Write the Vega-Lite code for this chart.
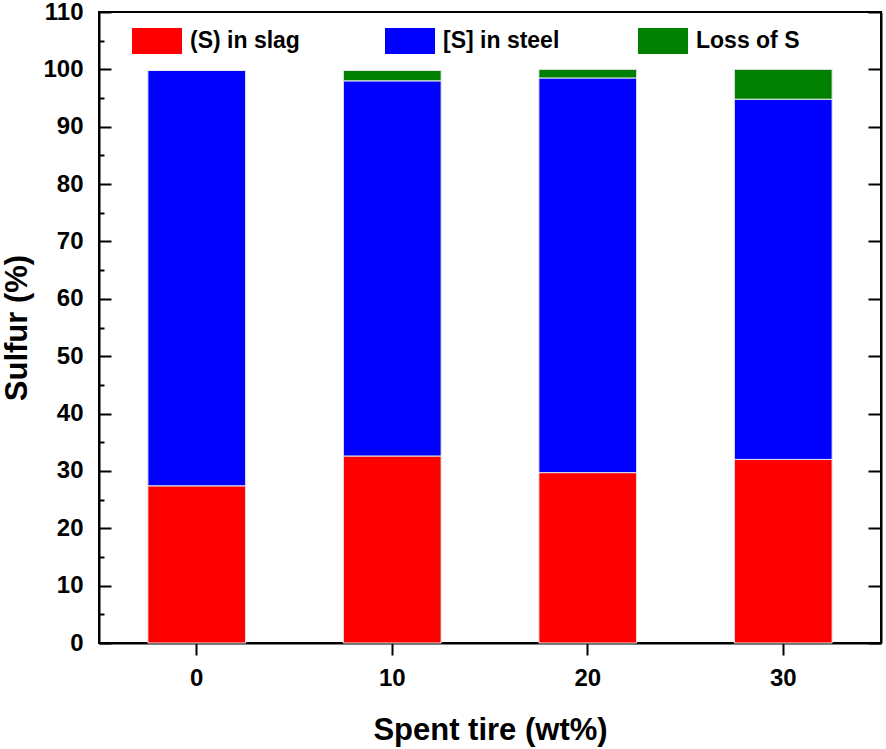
{
  "$schema": "https://vega.github.io/schema/vega-lite/v6.json",
  "width": 782,
  "height": 631,
  "autosize": "none",
  "padding": {"left": 99, "top": 12, "right": 5, "bottom": 106},
  "background": "white",
  "config": {
    "font": "Liberation Sans",
    "view": {"stroke": "black", "strokeWidth": 2},
    "axis": {
      "domainColor": "black",
      "domainWidth": 2,
      "tickColor": "black",
      "tickWidth": 2,
      "grid": false,
      "labelFont": "Liberation Sans",
      "labelFontWeight": "bold",
      "labelFontSize": 24,
      "labelColor": "black",
      "titleFont": "Liberation Sans",
      "titleFontWeight": "bold",
      "titleFontSize": 31,
      "titleColor": "black"
    }
  },
  "data": {
    "values": [
      {"tire": "0", "part": "(S) in slag", "order": 1, "value": 27.4},
      {"tire": "0", "part": "[S] in steel", "order": 2, "value": 72.4},
      {"tire": "0", "part": "Loss of S", "order": 3, "value": 0},
      {"tire": "10", "part": "(S) in slag", "order": 1, "value": 32.6},
      {"tire": "10", "part": "[S] in steel", "order": 2, "value": 65.4},
      {"tire": "10", "part": "Loss of S", "order": 3, "value": 1.8},
      {"tire": "20", "part": "(S) in slag", "order": 1, "value": 29.7},
      {"tire": "20", "part": "[S] in steel", "order": 2, "value": 68.8},
      {"tire": "20", "part": "Loss of S", "order": 3, "value": 1.5},
      {"tire": "30", "part": "(S) in slag", "order": 1, "value": 32.0},
      {"tire": "30", "part": "[S] in steel", "order": 2, "value": 62.8},
      {"tire": "30", "part": "Loss of S", "order": 3, "value": 5.2}
    ]
  },
  "encoding": {
    "x": {
      "field": "tire",
      "type": "ordinal",
      "sort": ["0", "10", "20", "30"],
      "title": "Spent tire (wt%)",
      "scale": {"paddingInner": 0.5, "paddingOuter": 0.25},
      "axis": {
        "labelAngle": 0,
        "tickSize": 12,
        "labelPadding": 11,
        "titleY": 96,
        "titleBaseline": "alphabetic"
      }
    }
  },
  "layer": [
    {
      "mark": {"type": "bar", "stroke": "#e8e8e8", "strokeWidth": 1},
      "encoding": {
        "y": {
          "field": "value",
          "type": "quantitative",
          "stack": "zero",
          "title": "Sulfur (%)",
          "scale": {"domain": [0, 110], "nice": false},
          "axis": {
            "orient": "left",
            "values": [0, 5, 10, 15, 20, 25, 30, 35, 40, 45, 50, 55, 60, 65, 70, 75, 80, 85, 90, 95, 100, 105, 110],
            "labelExpr": "datum.value % 10 === 0 ? datum.label : ''",
            "tickSize": {"condition": {"test": "datum.value % 10 === 0", "value": -12}, "value": -5},
            "labelPadding": 28,
            "titleX": -73,
            "titleBaseline": "alphabetic"
          }
        },
        "color": {
          "field": "part",
          "type": "nominal",
          "scale": {
            "domain": ["(S) in slag", "[S] in steel", "Loss of S"],
            "range": ["#ff0000", "#0000ff", "#008000"]
          },
          "legend": {
            "title": null,
            "orient": "none",
            "legendX": 33,
            "legendY": 4,
            "direction": "horizontal",
            "gridAlign": "all",
            "columnPadding": 78,
            "symbolType": "M-1,-0.52H1V0.52H-1Z",
            "symbolSize": 2500,
            "symbolStrokeWidth": 0,
            "labelOffset": 8,
            "labelFont": "Liberation Sans",
            "labelFontWeight": "bold",
            "labelFontSize": 23,
            "labelColor": "black",
            "labelLimit": 300
          }
        },
        "order": {"field": "order", "type": "quantitative"}
      }
    },
    {
      "mark": {"type": "tick", "opacity": 0},
      "encoding": {
        "y": {
          "field": "value",
          "type": "quantitative",
          "stack": null,
          "axis": {
            "orient": "right",
            "values": [0, 10, 20, 30, 40, 50, 60, 70, 80, 90, 100, 110],
            "labels": false,
            "tickSize": -13,
            "title": null
          }
        }
      }
    }
  ],
  "resolve": {"axis": {"y": "independent"}}
}
